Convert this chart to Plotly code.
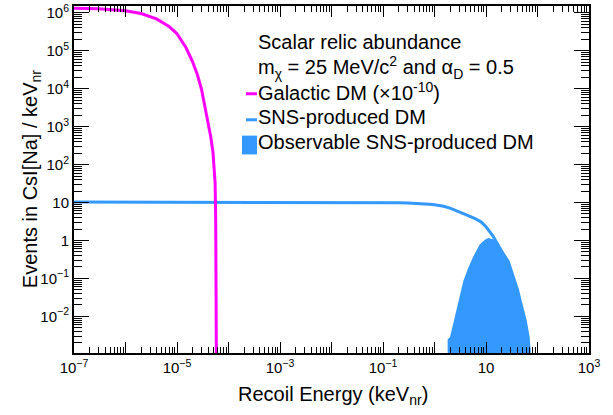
import plotly.graph_objects as go

# ---------------- data ----------------
galactic_E = [1e-7, 3e-7, 1e-6, 2e-6, 4e-6, 7e-6, 1e-5, 1.5e-5, 2e-5, 2.5e-5,
              3e-5, 3.5e-5, 4e-5, 4.5e-5, 5e-5, 5.3e-5, 5.5e-5, 5.65e-5, 5.8e-5, 5.9e-5]
galactic_rate = [1.32e6, 1.28e6, 1.13e6, 9.6e5, 6.9e5, 4.4e5, 2.8e5, 1.2e5, 5.2e4, 2.3e4,
                 9.5e3, 3.5e3, 1.3e3, 5.6e2, 2.1e2, 80, 32, 3, 0.03, 1e-5]

sns_E = [1e-7, 1e-3, 0.03, 0.1, 0.2, 0.3, 0.45, 0.6, 0.8, 1.0, 1.5, 2.0, 2.5, 3.2, 4.0,
         4.9, 6.0, 8.0, 10.0, 12.0, 13.7, 15.0, 16.4, 18.6, 22.0, 27.0, 32.0, 36.6,
         41.0, 46.0, 52.0, 57.6, 62.0, 66.0, 69.0, 71.0]
sns_rate = [10.3, 10.3, 10.2, 10.0, 9.85, 9.7, 9.5, 9.3, 9.0, 8.7, 8.0, 7.1, 6.3, 5.6,
            4.9, 4.3, 3.8, 3.1, 2.3, 1.7, 1.3, 1.05, 0.84, 0.62, 0.43, 0.28, 0.145,
            0.085, 0.05, 0.026, 0.014, 0.0078, 0.0045, 0.0028, 0.0012, 1e-5]

obs_E = [1.8, 2.0, 2.32, 2.69, 3.12, 3.63, 4.53, 5.66, 7.6, 9.5, 11.1, 12.5, 13.7,
         15.0, 16.4, 18.6, 22.0, 27.0, 32.0, 36.6, 41.0, 46.0, 52.0, 57.6, 62.0,
         66.0, 69.0, 71.0]
obs_rate = [0.0025, 0.0028, 0.0064, 0.017, 0.039, 0.085, 0.19, 0.38, 0.79, 1.05, 1.16,
            1.14, 1.08, 0.97, 0.84, 0.62, 0.43, 0.28, 0.145, 0.085, 0.05, 0.026, 0.014,
            0.0078, 0.0045, 0.0028, 0.0012, 1e-5]
fill_floor = 1e-6

x_decades = list(range(-7, 4))
x_ticktext = ["10<sup>−7</sup>", "", "10<sup>−5</sup>", "", "10<sup>−3</sup>", "",
              "10<sup>−1</sup>", "", "10", "", "10<sup>3</sup>"]
y_decades = list(range(-3, 7))
y_ticktext = ["", "10<sup>−2</sup>", "10<sup>−1</sup>", "1", "10", "10<sup>2</sup>",
              "10<sup>3</sup>", "10<sup>4</sup>", "10<sup>5</sup>", "10<sup>6</sup>"]
minor_digits = [2, 3, 4, 5, 6, 7, 8, 9]

x_tickvals = [10.0 ** k for k in x_decades]
y_tickvals = [10.0 ** k for k in y_decades]
x_minorvals = [d * 10.0 ** k for k in x_decades[:-1] for d in minor_digits]
y_minorvals = [d * 10.0 ** k for k in y_decades for d in minor_digits]

MAGENTA = "#FF00FF"
BLUE = "#3399FF"
FONT = "Liberation Sans, Arial, sans-serif"

fig = go.Figure()

fig.add_trace(go.Scatter(
    x=[obs_E[0]] + obs_E + [obs_E[-1]],
    y=[fill_floor] + obs_rate + [fill_floor],
    mode="lines", fill="toself", fillcolor=BLUE,
    line=dict(width=0, color=BLUE), showlegend=False, hoverinfo="skip"))

fig.add_trace(go.Scatter(x=sns_E, y=sns_rate, mode="lines",
                         line=dict(color=BLUE, width=3), showlegend=False))
fig.add_trace(go.Scatter(x=galactic_E, y=galactic_rate, mode="lines",
                         line=dict(color=MAGENTA, width=3), showlegend=False))

axis_common = dict(
    type="log", showline=True, linewidth=2, linecolor="black", mirror="ticks",
    ticks="inside", tickwidth=1, tickcolor="black", showgrid=False, zeroline=False,
    tickmode="array", ticklabeloverflow="allow",
    tickfont=dict(family=FONT, size=15, color="black"),
)

fig.update_xaxes(**axis_common, range=[-7, 3], tickvals=x_tickvals, ticktext=x_ticktext,
                 ticklen=11,
                 minor=dict(ticks="inside", ticklen=6, tickwidth=1, tickcolor="black",
                            tickmode="array", tickvals=x_minorvals, showgrid=False))
fig.update_yaxes(**axis_common, range=[-2.966, 6.18], tickvals=y_tickvals, ticktext=y_ticktext,
                 ticklen=15,
                 minor=dict(ticks="inside", ticklen=8, tickwidth=1, tickcolor="black",
                            tickmode="array", tickvals=y_minorvals, showgrid=False))

# legend drawn as text + sample marks
def px_x(p):
    return (p - 74) / 515.0

def px_y(p):
    return (352.7 - p) / 350.7

ann = []
text_x = px_x(256)
for txt, yc in [("Scalar relic abundance", 38.5),
                ("m<sub>χ</sub> = 25 MeV/c<sup>2</sup> and α<sub>D</sub> = 0.5", 64),
                ("Galactic DM (×10<sup>-10</sup>)", 88),
                ("SNS-produced DM", 114),
                ("Observable SNS-produced DM", 139)]:
    ann.append(dict(text=txt, x=text_x, y=px_y(yc), xref="paper", yref="paper",
                    xanchor="left", yanchor="middle", showarrow=False,
                    font=dict(family=FONT, size=20, color="black")))

ann.append(dict(text="Recoil Energy (keV<sub>nr</sub>)", x=px_x(333), y=px_y(396),
                xref="paper", yref="paper", xanchor="center", yanchor="middle",
                showarrow=False, font=dict(family=FONT, size=20, color="black")))
ann.append(dict(text="Events in CsI[Na] / keV<sub>nr</sub>", x=px_x(31), y=px_y(177),
                xref="paper", yref="paper", xanchor="center", yanchor="middle",
                textangle=-90, showarrow=False,
                font=dict(family=FONT, size=20, color="black")))

shapes = [
    dict(type="line", xref="paper", yref="paper", x0=px_x(246), x1=px_x(257),
         y0=px_y(90.7), y1=px_y(90.7), line=dict(color=MAGENTA, width=3)),
    dict(type="line", xref="paper", yref="paper", x0=px_x(246), x1=px_x(257),
         y0=px_y(117), y1=px_y(117), line=dict(color=BLUE, width=3)),
    dict(type="rect", xref="paper", yref="paper", x0=px_x(242), x1=px_x(257),
         y0=px_y(152), y1=px_y(133), line=dict(width=0), fillcolor=BLUE),
]

fig.update_layout(
    width=613, height=415,
    margin=dict(l=74, r=24, t=2, b=62),
    paper_bgcolor="white", plot_bgcolor="white",
    showlegend=False, annotations=ann, shapes=shapes,
    font=dict(family=FONT, color="black"),
)

fig.write_html("out.html")
